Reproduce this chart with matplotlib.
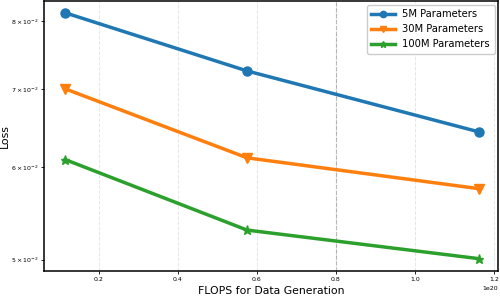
import matplotlib
matplotlib.use('Agg')
import matplotlib.pyplot as plt
import numpy as np

# data
flops = [0.114e20, 0.575e20, 1.162e20]
loss_5m = [0.0813, 0.0725, 0.0643]
loss_30m = [0.0700, 0.0611, 0.0575]
loss_100m = [0.0609, 0.0530, 0.0501]
labels = ['5M Parameters', '30M Parameters', '100M Parameters']
markers = ['o', 'v', '*']
colors = ['#1f77b4', '#ff7f0e', '#2ca02c']
yticks = [0.05, 0.06, 0.07, 0.08]
ytick_labels = [r'$5\times10^{-2}$', r'$6\times10^{-2}$', r'$7\times10^{-2}$', r'$8\times10^{-2}$']
xticks = [0.2e20, 0.4e20, 0.6e20, 0.8e20, 1.0e20, 1.2e20]

fig = plt.figure(figsize=(5, 2.96), dpi=100)
ax = fig.add_axes([44 / 500, 1 - 271 / 296, 454 / 500, 270 / 296])

for ys, lab, m, c in zip([loss_5m, loss_30m, loss_100m], labels, markers, colors):
    ax.plot(flops, ys, marker=m, color=c, label=lab, linewidth=2.5, markersize=6.5)

ax.set_yscale('log')
ax.set_ylim(0.0489, 0.0832)
ax.set_xlim(0.061e20, 1.21e20)
ax.yaxis.set_minor_locator(matplotlib.ticker.NullLocator())
ax.set_yticks(yticks)
ax.set_yticklabels(ytick_labels)
ax.set_xticks(xticks)

ax.tick_params(axis='both', labelsize=4.5, length=2, width=0.6, pad=2)
ax.xaxis.get_offset_text().set_fontsize(4.5)

ax.grid(True, axis='x', linestyle='--', color='#cccccc', alpha=0.5, linewidth=0.7)
ax.axvline(0.8e20, linestyle='--', color='#aaaaaa', linewidth=0.8, zorder=0)

for s in ax.spines.values():
    s.set_linewidth(1.1)
    s.set_color('black')

ax.set_xlabel('FLOPS for Data Generation', fontsize=7.8, labelpad=3)
ax.set_ylabel('Loss', fontsize=7.8, labelpad=1)

leg = ax.legend(loc='upper right', fontsize=7.2, handlelength=2.4, borderaxespad=0.35,
                labelspacing=0.5, handletextpad=0.7, markerscale=0.7, framealpha=1.0,
                borderpad=0.45)

fig.savefig('out.png', dpi=100)
